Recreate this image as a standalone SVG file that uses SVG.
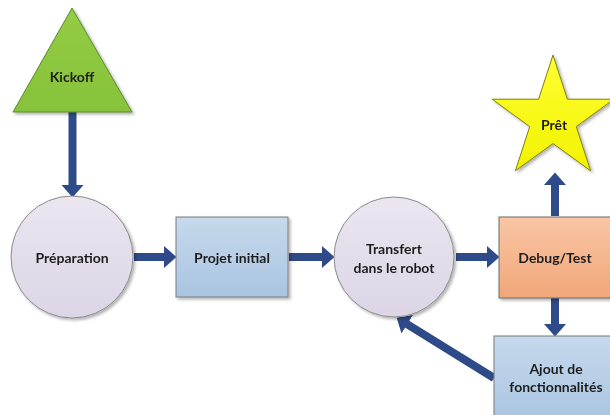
<svg xmlns="http://www.w3.org/2000/svg" width="610" height="415" viewBox="0 0 610 415">
<style>
.lbl{font-family:Lato,"Open Sans","Liberation Sans",sans-serif;font-weight:bold;font-size:14px;fill:#1f1f1f;text-anchor:middle;dominant-baseline:central}
.node{filter:url(#sh)}
.conn line{stroke:#2f4a88;stroke-width:8;marker-end:url(#ah);fill:none}
</style>
<defs>
<filter id="sh" x="-20%" y="-20%" width="140%" height="140%">
<feDropShadow dx="2" dy="2" stdDeviation="1.8" flood-color="#000" flood-opacity="0.3"/>
</filter>
<linearGradient id="gGreen" x1="0" y1="0" x2="0" y2="1"><stop offset="0" stop-color="#94cc45"/><stop offset="1" stop-color="#86c23a"/></linearGradient>
<linearGradient id="gLav" x1="0" y1="0" x2="0" y2="1"><stop offset="0" stop-color="#ebe6f0"/><stop offset="1" stop-color="#dcd5e6"/></linearGradient>
<linearGradient id="gBlue" x1="0" y1="0" x2="0" y2="1"><stop offset="0" stop-color="#c6d9ec"/><stop offset="1" stop-color="#a9c4e1"/></linearGradient>
<linearGradient id="gOrange" x1="0" y1="0" x2="0" y2="1"><stop offset="0" stop-color="#f9c6a5"/><stop offset="1" stop-color="#f1a678"/></linearGradient>
<linearGradient id="gYellow" x1="0" y1="0" x2="0" y2="1"><stop offset="0" stop-color="#ffff33"/><stop offset="1" stop-color="#f2f200"/></linearGradient>
<marker id="ah" markerUnits="userSpaceOnUse" markerWidth="13" markerHeight="22" refX="6" refY="11" orient="auto">
<path d="M0,0 L12.5,11 L0,22 Z" fill="#2f4a88"/>
</marker>
</defs>
<g class="conn" id="connectors">
<line x1="72.5" y1="112" x2="72.5" y2="191"/>
<line x1="134" y1="257" x2="170" y2="257"/>
<line x1="289" y1="257" x2="328" y2="257"/>
<line x1="456" y1="257" x2="493" y2="257"/>
<line x1="555" y1="216" x2="555" y2="179"/>
<line x1="555" y1="298" x2="555" y2="330"/>
<line x1="494" y1="378" x2="402.2" y2="321.1"/>
</g>
<g id="kickoff" class="node">
<polygon points="72,8 13,112 132,112" fill="url(#gGreen)" stroke="#5a8a2a" stroke-width="1"/>
<text class="lbl" x="72" y="76">Kickoff</text>
</g>
<g id="pret" class="node">
<polygon points="553,55 567.4,99.2 613.9,99.2 576.3,126.6 590.6,170.8 553,143.5 515.4,170.8 529.7,126.6 492.1,99.2 538.6,99.2" fill="url(#gYellow)" stroke="#7f7f10" stroke-width="1"/>
<text class="lbl" x="554" y="124">Prêt</text>
</g>
<g id="preparation" class="node">
<circle cx="72" cy="257" r="61" fill="url(#gLav)" stroke="#8a8a8a" stroke-width="1"/>
<text class="lbl" x="72" y="257">Préparation</text>
</g>
<g id="projet" class="node">
<rect x="176" y="217" width="112" height="80" fill="url(#gBlue)" stroke="#7a7a7a" stroke-width="1"/>
<text class="lbl" x="232" y="257">Projet initial</text>
</g>
<g id="transfert" class="node">
<circle cx="394" cy="257" r="60" fill="url(#gLav)" stroke="#8a8a8a" stroke-width="1"/>
<text class="lbl" x="394" y="248">Transfert</text>
<text class="lbl" x="394" y="267">dans le robot</text>
</g>
<g id="debug" class="node">
<rect x="499" y="217" width="113" height="81" fill="url(#gOrange)" stroke="#6a6a6a" stroke-width="1"/>
<text class="lbl" x="555" y="257">Debug/Test</text>
</g>
<g id="ajout" class="node">
<rect x="494" y="336" width="124" height="86" fill="url(#gBlue)" stroke="#7a7a7a" stroke-width="1"/>
<text class="lbl" x="556" y="368">Ajout de</text>
<text class="lbl" x="556" y="386">fonctionnalités</text>
</g>
</svg>
